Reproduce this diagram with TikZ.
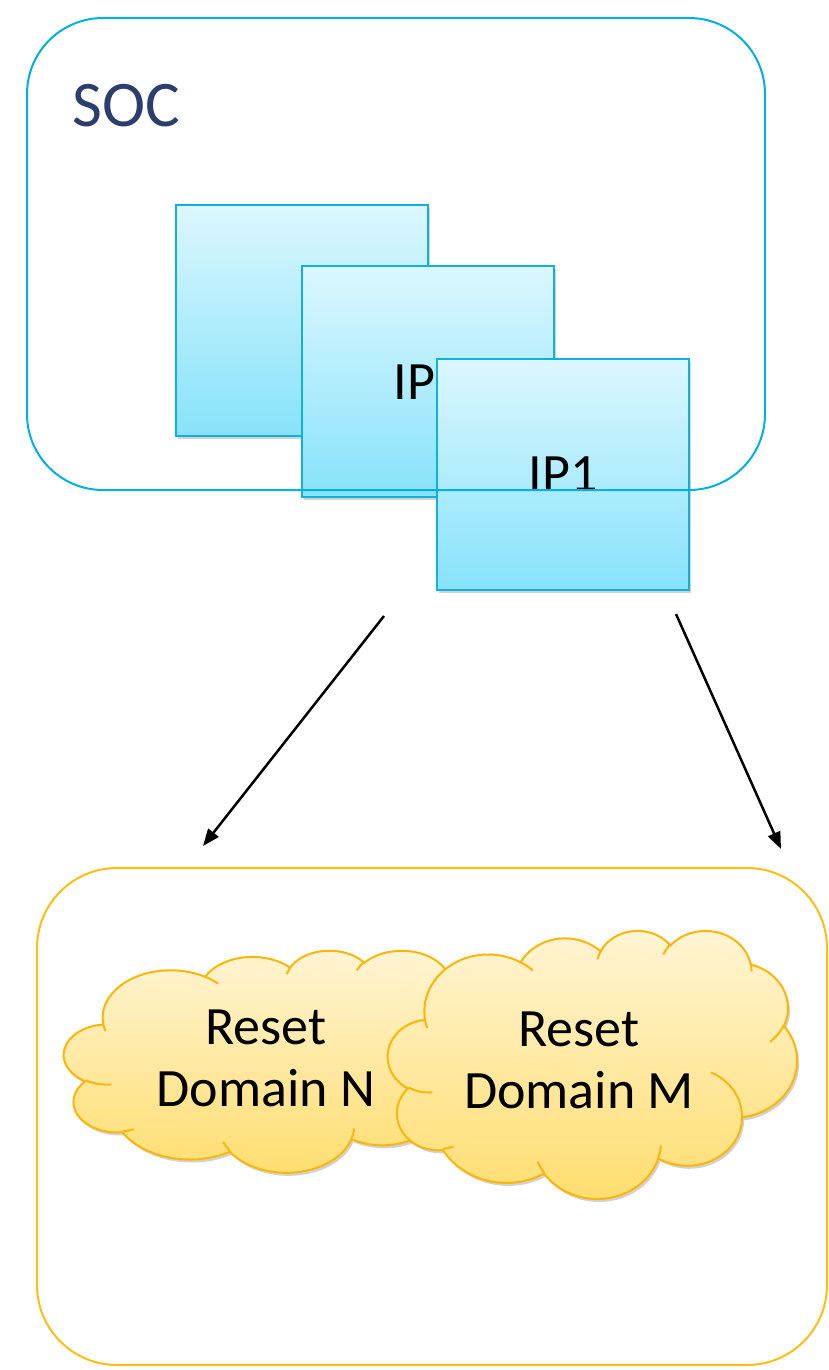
\documentclass[tikz,border=0pt]{standalone}
\usepackage{fontspec}
\setmainfont{Carlito}
\usepackage{tikz}
\usetikzlibrary{arrows.meta}
\usetikzlibrary{shadows}

\definecolor{socline}{RGB}{0,176,222}
\definecolor{soctext}{RGB}{43,62,110}
\definecolor{iptop}{RGB}{220,247,254}
\definecolor{ipbottom}{RGB}{135,226,250}
\definecolor{ipline}{RGB}{16,178,220}
\definecolor{rstline}{RGB}{255,190,20}
\definecolor{cloudtop}{RGB}{255,245,214}
\definecolor{cloudbottom}{RGB}{255,221,110}
\definecolor{cloudline}{RGB}{250,182,10}

\tikzset{
  ipbox/.style={rectangle, draw=ipline, line width=2pt, top color=iptop, bottom color=ipbottom,
    minimum width=252pt, minimum height=231pt, inner sep=0pt,
    drop shadow={shadow xshift=2pt, shadow yshift=-3pt, opacity=0.25, fill=black!70},
    font=\fontsize{54}{62}\selectfont},
  zone/.style={rectangle, draw=#1, line width=2pt, inner sep=0pt},
  flow/.style={-{Triangle[length=17pt,width=13pt]}, line width=2.5pt},
  puff/.style={draw=cloudline, line width=2pt, top color=cloudtop, bottom color=cloudbottom,
    drop shadow={shadow xshift=2pt, shadow yshift=-3pt, opacity=0.25, fill=black!70}},
  puffline/.style={draw=cloudline, line width=2pt},
  cloudtext/.style={align=center, inner sep=0pt, font=\fontsize{54}{62}\selectfont},
}

% cloud in a 432 x 432 box at (#1,#2), size #3 x #4; arcs are radii + visual angles
\newcommand{\resetcloud}[4]{%
  \begin{scope}[shift={(#1,#2)}, xscale=#3/432, yscale=#4/432]
    \draw[puff] (39,143.7)
      \foreach \wr/\hr/\st/\sw [evaluate=\st as \ts using {atan2(\wr*sin(\st),\hr*cos(\st))},
        evaluate=\sw as \dt using {mod(atan2(\wr*sin(\st+\sw),\hr*cos(\st+\sw))-atan2(\wr*sin(\st),\hr*cos(\st))+720,360)-(\sw<0)*360}]
      in {67.53/91.90/-190.4875/123.7805, 53.33/72.67/-144.1024/89.9452,
          43.65/59.45/-145.8079/99.7230, 48.57/65.95/-130.9861/117.2417,
          53.33/72.73/-78.7089/109.0269, 67.75/92.20/-46.2673/130.2690,
          57.85/78.67/0.6250/114.0333, 67.52/92.15/22.4516/115.1726,
          77.20/105.43/66.2426/75.7110, 43.60/59.18/-274.9421/146.7356,
          43.45/59.45/-246.8285/152.5269}
      {arc[x radius=\wr, y radius=\hr, start angle=\ts, delta angle=\dt]} -- cycle;
    \draw[puffline]
      \foreach \px/\py/\wr/\hr/\st/\sw [evaluate=\st as \ts using {atan2(\wr*sin(\st),\hr*cos(\st))},
        evaluate=\sw as \dt using {mod(atan2(\wr*sin(\st+\sw),\hr*cos(\st+\sw))-atan2(\wr*sin(\st),\hr*cos(\st))+720,360)}]
      in {46.93/261.77/43.45/59.45/86.742/26.4295, 69.28/348.99/43.60/59.18/73.6105/11.4475,
          164.78/390.90/67.52/92.15/137.6242/14.0811, 288.27/347.51/67.52/92.15/6.4533/15.9984,
          341.29/229.54/57.85/78.67/-70.2924/70.9174, 417.98/153.54/53.33/72.73/30.318/27.7515,
          383.24/54.26/48.57/65.95/-13.7443/14.8589, 290.78/39.52/48.57/65.95/-149.1815/18.1954,
          221.41/47.20/43.65/59.45/-163.4943/17.6864, 140.00/51.92/67.53/91.90/-66.707/12.3194,
          41.27/157.89/67.53/91.90/157.6544/11.8582}
      {(\px,\py) arc[x radius=\wr, y radius=\hr, start angle=\ts, delta angle=\dt]};
  \end{scope}}

\begin{document}
\begin{tikzpicture}[x=1pt, y=-1pt]
    \useasboundingbox (0,0) rectangle (828,1370);

    \node[ipbox] (ip3) at (302,320.5) {};
    \node[ipbox] (ip2) at (428,381.5) {IP2};
    \node[ipbox] (ip1) at (563,474.5) {IP1};

    \node[zone=socline, rounded corners=76pt, minimum width=738pt, minimum height=472pt] (soc) at (396,254) {};
    \node[anchor=base west, inner sep=0pt, text=soctext, font=\fontsize{65}{78}\selectfont] (soctitle) at (72,127) {SOC};

    \coordinate (leftfrom) at (384,616);
    \coordinate (leftto) at (203,846);
    \coordinate (rightfrom) at (676,614);
    \coordinate (rightto) at (781,849);
    \draw[flow] (leftfrom) -- (leftto);
    \draw[flow] (rightfrom) -- (rightto);

    \node[zone=rstline, rounded corners=80pt, minimum width=790pt, minimum height=497pt] (resets) at (432,1116.5) {};

    \resetcloud{64}{950}{435}{222}
    \node[cloudtext] (domn) at (266,1058.5) {Reset\\Domain N};
    \resetcloud{388}{930}{409}{268}
    \node[cloudtext] (domm) at (579,1060) {Reset\\Domain M};
\end{tikzpicture}
\end{document}
